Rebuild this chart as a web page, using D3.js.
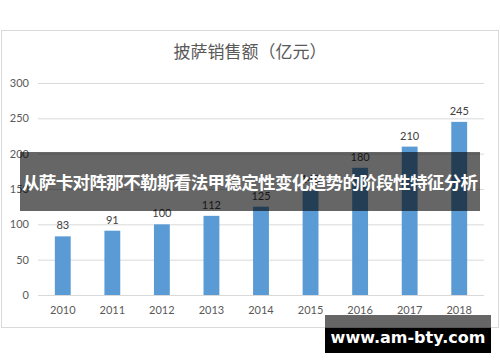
<!DOCTYPE html>
<html>
<head>
<meta charset="utf-8">
<script src="https://cdn.jsdelivr.net/npm/d3@7"></script>
<style>
  body { margin: 0; background: #fff; }
  svg { display: block; }
</style>
</head>
<body>
<div id="chart"></div>
<script>
// Daten
var years = ["2010", "2011", "2012", "2013", "2014", "2015", "2016", "2017", "2018"];
var sales = [83, 91, 100, 112, 125, 148, 180, 210, 245];
var yTicks = [0, 50, 100, 150, 200, 250, 300];
var title = "披萨销售额（亿元）";
var banner = "从萨卡对阵那不勒斯看法甲稳定性变化趋势的阶段性特征分析";
var watermark = "www.am-bty.com";

var width = 500, height = 362;
var svg = d3.select("#chart").append("svg")
    .attr("width", width).attr("height", height);

// Rahmen
svg.append("rect").attr("x", 1.5).attr("y", 30.5).attr("width", 497).attr("height", 297)
    .attr("fill", "#fff").attr("stroke", "#d9d9d9");

svg.append("text").attr("x", 250).attr("y", 58).attr("text-anchor", "middle")
    .attr("font-family", "'Noto Sans CJK SC', sans-serif").attr("font-size", 17)
    .attr("fill", "#595959").text(title);

var x = d3.scaleBand().domain(years).range([38, 484]).paddingInner(0.68).paddingOuter(0.34);
var y = d3.scaleLinear().domain([0, 300]).range([295, 83]);

// Gitterlinien
svg.append("g").selectAll("line").data(yTicks).enter().append("line")
    .attr("x1", 38).attr("x2", 484)
    .attr("y1", function(d){ return y(d) + 0.5; })
    .attr("y2", function(d){ return y(d) + 0.5; })
    .attr("stroke", "#d9d9d9").attr("stroke-width", 1);

svg.append("g").selectAll("text").data(yTicks).enter().append("text")
    .attr("x", 29).attr("y", function(d){ return y(d) + 4; })
    .attr("text-anchor", "end")
    .attr("font-family", "Lato, 'Open Sans', sans-serif").attr("font-size", 11)
    .attr("fill", "#595959").text(function(d){ return d; });

// Balken
svg.append("g").selectAll("rect").data(sales).enter().append("rect")
    .attr("x", function(d, i){ return x(years[i]); })
    .attr("width", x.bandwidth())
    .attr("y", function(d){ return y(d); })
    .attr("height", function(d){ return y(0) - y(d); })
    .attr("fill", "#5b9bd5");

svg.append("g").selectAll("text").data(sales).enter().append("text")
    .attr("x", function(d, i){ return x(years[i]) + x.bandwidth() / 2; })
    .attr("y", function(d){ return y(d) - 7; })
    .attr("text-anchor", "middle")
    .attr("font-family", "Lato, 'Open Sans', sans-serif").attr("font-size", 11)
    .attr("fill", "#404040").text(function(d){ return d; });

svg.append("g").selectAll("text").data(years).enter().append("text")
    .attr("x", function(d){ return x(d) + x.bandwidth() / 2; })
    .attr("y", 314)
    .attr("text-anchor", "middle")
    .attr("font-family", "Lato, 'Open Sans', sans-serif").attr("font-size", 11)
    .attr("fill", "#595959").text(function(d){ return d; });

// Overlay-Banner
svg.append("rect").attr("x", 20).attr("y", 152).attr("width", 460).attr("height", 59)
    .attr("fill", "rgba(0,0,0,0.6)");
svg.append("text").attr("x", 250).attr("y", 189).attr("text-anchor", "middle")
    .attr("font-family", "'Noto Sans CJK SC', sans-serif").attr("font-weight", "bold")
    .attr("font-size", 17.5).attr("fill", "#fff").attr("textLength", 456)
    .text(banner);

// Wasserzeichen
svg.append("rect").attr("x", 325).attr("y", 315).attr("width", 166).attr("height", 13)
    .attr("fill", "rgba(0,0,0,0.6)");
svg.append("rect").attr("x", 325).attr("y", 328).attr("width", 166).attr("height", 25)
    .attr("fill", "#000");
svg.append("text").attr("x", 408).attr("y", 343).attr("text-anchor", "middle")
    .attr("font-family", "'DejaVu Sans', sans-serif").attr("font-weight", "bold")
    .attr("font-size", 16).attr("fill", "#fff").text(watermark);
</script>
</body>
</html>
